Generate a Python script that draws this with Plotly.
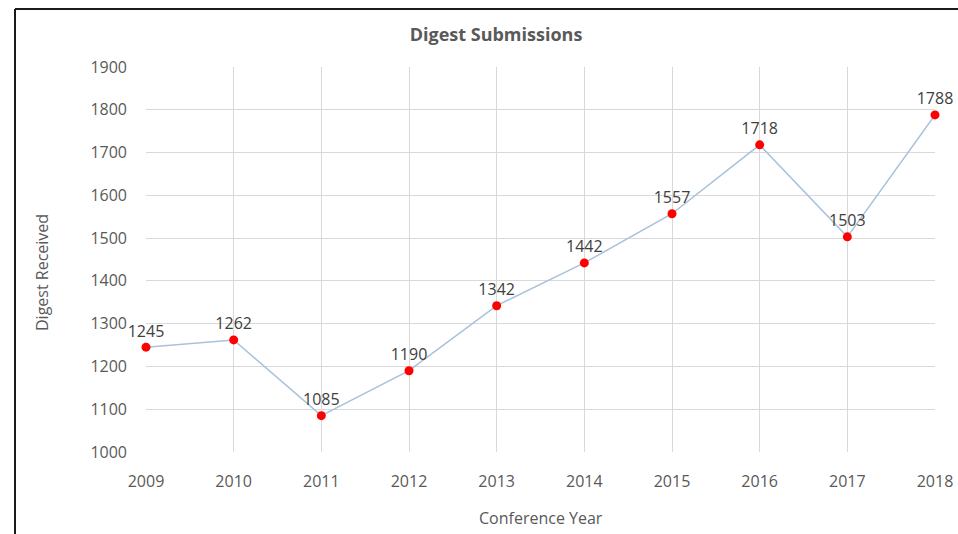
import plotly.graph_objects as go

years = ["2009", "2010", "2011", "2012", "2013", "2014", "2015", "2016", "2017", "2018"]
digests = [1245, 1262, 1085, 1190, 1342, 1442, 1557, 1718, 1503, 1788]
y_ticks = [1000, 1100, 1200, 1300, 1400, 1500, 1600, 1700, 1800, 1900]

FONT = "Open Sans"
GREY = "#595959"
PW = 789  # plot width in px
PH = 385  # plot height in px

fig = go.Figure()
fig.add_trace(go.Scatter(
    x=list(range(len(years))), y=digests,
    mode="lines+markers+text",
    line=dict(color="#a9c1da", width=1.5),
    marker=dict(color="#ff0000", size=9),
    text=[str(v) for v in digests],
    textposition="top center",
    textfont=dict(family=FONT, size=16, color="#404040"),
    cliponaxis=False,
    hoverinfo="x+y",
))

fig.update_layout(
    width=958, height=534,
    margin=dict(l=146, r=23, t=67, b=82, autoexpand=False),
    paper_bgcolor="white", plot_bgcolor="white",
    showlegend=False,
    title=dict(text="<b>Digest Submissions</b>", xref="paper",
               x=(496 - 146) / PW, xanchor="center",
               y=1 - 35 / 534, yanchor="middle",
               font=dict(family=FONT, size=18, color=GREY)),
    xaxis=dict(range=[0, len(years) - 1], tickmode="array",
               tickvals=list(range(len(years))), ticktext=years,
               showgrid=True, gridcolor="#d9d9d9", gridwidth=1,
               zeroline=False, showline=False, ticks="", automargin=False,
               tickfont=dict(family=FONT, size=16, color=GREY),
               ticklabelstandoff=18),
    yaxis=dict(range=[1000, 1900], tickvals=y_ticks,
               showgrid=True, gridcolor="#d9d9d9", gridwidth=1,
               zeroline=False, showline=False, ticks="", automargin=False,
               tickfont=dict(family=FONT, size=16, color=GREY),
               ticklabelstandoff=18),
    annotations=[
        dict(text="Conference Year", xref="paper", yref="paper",
             x=(541 - 146) / PW, y=-(518 - 452) / PH,
             xanchor="center", yanchor="middle", showarrow=False,
             font=dict(family=FONT, size=16, color=GREY)),
        dict(text="Digest Received", xref="paper", yref="paper",
             x=-(146 - 42) / PW, y=(452 - 273) / PH, textangle=-90,
             xanchor="center", yanchor="middle", showarrow=False,
             font=dict(family=FONT, size=16, color=GREY)),
    ],
    shapes=[
        dict(type="line", xref="paper", yref="paper",
             x0=-(146 - 15) / PW, x1=1.2,
             y0=(452 - 9) / PH, y1=(452 - 9) / PH,
             line=dict(color="#1a1a1a", width=2)),
        dict(type="line", xref="paper", yref="paper",
             x0=-(146 - 15) / PW, x1=-(146 - 15) / PW,
             y0=(452 - 9) / PH, y1=-0.3,
             line=dict(color="#1a1a1a", width=2)),
    ],
)

fig.write_html(
    "out.html",
    config={"displayModeBar": False, "responsive": False},
    post_script="document.body.style.margin='0';document.body.style.overflow='hidden';"
                "document.documentElement.style.overflow='hidden';",
)
